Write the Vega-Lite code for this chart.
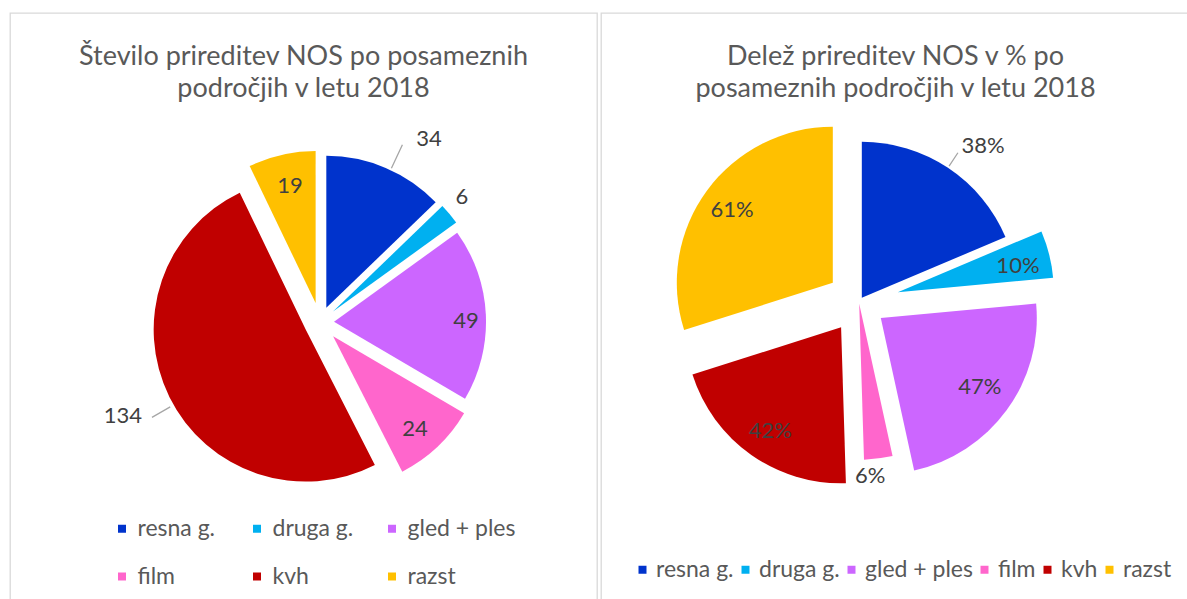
{
  "$schema": "https://vega.github.io/schema/vega-lite/v6.json",
  "padding": {"left": 9, "top": 12, "right": 0, "bottom": 0},
  "background": "white",
  "spacing": 2,
  "config": {
    "view": {"stroke": "#d9d9d9", "strokeWidth": 1.3},
    "font": "Lato",
    "title": {"font": "Lato", "fontSize": 27, "fontWeight": "normal", "color": "#595959", "lineHeight": 32, "anchor": "middle", "baseline": "top", "offset": -90},
    "legend": {"orient": "none", "title": null, "symbolType": "square", "symbolSize": 64, "symbolStrokeWidth": 0, "labelFont": "Lato", "labelFontSize": 23, "labelColor": "#595959", "padding": 0, "direction": "horizontal"}
  },
  "resolve": {"scale": {"color": "independent", "theta": "independent"}, "legend": {"color": "independent"}},
  "hconcat": [
    {
      "width": 587,
      "height": 587,
      "view": {"stroke": "#d9d9d9", "strokeWidth": 1.3},
      "title": {"text": ["Število prireditev NOS po posameznih", "področjih v letu 2018"]},
      "data": {"values": [
        {"cat": "resna g.", "value": 34},
        {"cat": "druga g.", "value": 6},
        {"cat": "gled + ples", "value": 49},
        {"cat": "film", "value": 24},
        {"cat": "kvh", "value": 134},
        {"cat": "razst", "value": 19}
      ]},
      "transform": [
        {"stack": "value", "groupby": [], "as": ["start", "end"]},
        {"calculate": "(datum.start + datum.end) / 2", "as": "mid"}
      ],
      "layer": [
        {"transform": [{"filter": "datum.cat === 'resna g.'"}], "mark": {"type": "arc", "outerRadius": 152, "xOffset": 22.8, "yOffset": 1.3},
         "encoding": {"theta": {"field": "start", "type": "quantitative", "stack": null, "scale": {"domain": [0, 266], "nice": false, "zero": true}}, "theta2": {"field": "end"},
           "color": {"field": "cat", "type": "nominal", "scale": {"domain": ["resna g.", "druga g.", "gled + ples", "film", "kvh", "razst"], "range": ["#0033CC", "#00B0F0", "#CC66FF", "#FF66CC", "#C00000", "#FFC000"]},
             "legend": {"columns": 3, "gridAlign": "all", "columnPadding": -10, "rowPadding": 24, "labelOffset": 4, "legendX": 100.5, "legendY": 504}}}},
        {"transform": [{"filter": "datum.cat === 'druga g.'"}], "mark": {"type": "arc", "outerRadius": 152, "xOffset": 29.5, "yOffset": 5.1},
         "encoding": {"theta": {"field": "start", "type": "quantitative", "stack": null}, "theta2": {"field": "end"}, "color": {"field": "cat", "type": "nominal"}}},
        {"transform": [{"filter": "datum.cat === 'gled + ples'"}], "mark": {"type": "arc", "outerRadius": 152, "xOffset": 30.5, "yOffset": 15.3},
         "encoding": {"theta": {"field": "start", "type": "quantitative", "stack": null}, "theta2": {"field": "end"}, "color": {"field": "cat", "type": "nominal"}}},
        {"transform": [{"filter": "datum.cat === 'film'"}], "mark": {"type": "arc", "outerRadius": 152, "xOffset": 29.6, "yOffset": 29.8},
         "encoding": {"theta": {"field": "start", "type": "quantitative", "stack": null}, "theta2": {"field": "end"}, "color": {"field": "cat", "type": "nominal"}}},
        {"transform": [{"filter": "datum.cat === 'kvh'"}], "mark": {"type": "arc", "outerRadius": 152, "xOffset": 2.2, "yOffset": 23.1},
         "encoding": {"theta": {"field": "start", "type": "quantitative", "stack": null}, "theta2": {"field": "end"}, "color": {"field": "cat", "type": "nominal"}}},
        {"transform": [{"filter": "datum.cat === 'razst'"}], "mark": {"type": "arc", "outerRadius": 152, "xOffset": 12.1, "yOffset": -3.5},
         "encoding": {"theta": {"field": "start", "type": "quantitative", "stack": null}, "theta2": {"field": "end"}, "color": {"field": "cat", "type": "nominal"}}},

        {"transform": [{"filter": "datum.cat === 'resna g.'"}], "mark": {"type": "arc", "innerRadius": 154, "outerRadius": 180, "thetaOffset": 0.035, "theta2Offset": 0.035, "xOffset": 22.8, "yOffset": 1.3, "filled": false, "stroke": "#a6a6a6", "strokeWidth": 1.3},
         "encoding": {"theta": {"field": "mid", "type": "quantitative", "stack": null}, "theta2": {"field": "mid"}}},
        {"transform": [{"filter": "datum.cat === 'kvh'"}], "mark": {"type": "arc", "innerRadius": 156, "outerRadius": 177, "thetaOffset": -0.058, "theta2Offset": -0.058, "xOffset": 2.2, "yOffset": 23.1, "filled": false, "stroke": "#a6a6a6", "strokeWidth": 1.3},
         "encoding": {"theta": {"field": "mid", "type": "quantitative", "stack": null}, "theta2": {"field": "mid"}}},

        {"transform": [{"filter": "datum.cat === 'resna g.'"}], "mark": {"type": "text", "radius": 196, "xOffset": 48.8, "yOffset": 12.6, "fontSize": 22, "font": "Lato", "color": "#404040", "baseline": "middle", "align": "center"},
         "encoding": {"theta": {"field": "mid", "type": "quantitative", "stack": null}, "text": {"field": "value", "type": "quantitative"}}},
        {"transform": [{"filter": "datum.cat === 'druga g.'"}], "mark": {"type": "text", "radius": 151, "xOffset": 42.7, "yOffset": -12.2, "fontSize": 22, "font": "Lato", "color": "#404040", "baseline": "middle", "align": "center"},
         "encoding": {"theta": {"field": "mid", "type": "quantitative", "stack": null}, "text": {"field": "value", "type": "quantitative"}}},
        {"transform": [{"filter": "datum.cat === 'gled + ples'"}], "mark": {"type": "text", "radius": 132, "xOffset": 30.7, "yOffset": 20.7, "fontSize": 22, "font": "Lato", "color": "#404040", "baseline": "middle", "align": "center"},
         "encoding": {"theta": {"field": "mid", "type": "quantitative", "stack": null}, "text": {"field": "value", "type": "quantitative"}}},
        {"transform": [{"filter": "datum.cat === 'film'"}], "mark": {"type": "text", "radius": 124, "xOffset": 26.4, "yOffset": 32.7, "fontSize": 22, "font": "Lato", "color": "#404040", "baseline": "middle", "align": "center"},
         "encoding": {"theta": {"field": "mid", "type": "quantitative", "stack": null}, "text": {"field": "value", "type": "quantitative"}}},
        {"transform": [{"filter": "datum.cat === 'kvh'"}], "mark": {"type": "text", "radius": 202, "xOffset": 0.4, "yOffset": 19.4, "fontSize": 22, "font": "Lato", "color": "#404040", "baseline": "middle", "align": "center"},
         "encoding": {"theta": {"field": "mid", "type": "quantitative", "stack": null}, "text": {"field": "value", "type": "quantitative"}}},
        {"transform": [{"filter": "datum.cat === 'razst'"}], "mark": {"type": "text", "radius": 120, "xOffset": 13.1, "yOffset": -3.7, "fontSize": 22, "font": "Lato", "color": "#404040", "baseline": "middle", "align": "center"},
         "encoding": {"theta": {"field": "mid", "type": "quantitative", "stack": null}, "text": {"field": "value", "type": "quantitative"}}}
      ]
    },
    {
      "width": 589,
      "height": 587,
      "view": {"stroke": "#d9d9d9", "strokeWidth": 1.3},
      "title": {"text": ["Delež prireditev NOS v % po", "posameznih področjih v letu 2018"]},
      "data": {"values": [
        {"cat": "resna g.", "value": 38},
        {"cat": "druga g.", "value": 10},
        {"cat": "gled + ples", "value": 47},
        {"cat": "film", "value": 6},
        {"cat": "kvh", "value": 42},
        {"cat": "razst", "value": 61}
      ]},
      "transform": [
        {"stack": "value", "groupby": [], "as": ["start", "end"]},
        {"calculate": "(datum.start + datum.end) / 2", "as": "mid"},
        {"calculate": "datum.value + '%'", "as": "label"}
      ],
      "layer": [
        {"transform": [{"filter": "datum.cat === 'resna g.'"}], "mark": {"type": "arc", "outerRadius": 156, "xOffset": -33.7, "yOffset": -8.7},
         "encoding": {"theta": {"field": "start", "type": "quantitative", "stack": null, "scale": {"domain": [0, 204], "nice": false, "zero": true}}, "theta2": {"field": "end"},
           "color": {"field": "cat", "type": "nominal", "scale": {"domain": ["resna g.", "druga g.", "gled + ples", "film", "kvh", "razst"], "range": ["#0033CC", "#00B0F0", "#CC66FF", "#FF66CC", "#C00000", "#FFC000"]},
             "legend": {"columns": 6, "gridAlign": "each", "columnPadding": -9, "labelOffset": 2, "legendX": 30, "legendY": 545}}}},
        {"transform": [{"filter": "datum.cat === 'druga g.'"}], "mark": {"type": "arc", "outerRadius": 156, "xOffset": 2.3, "yOffset": -14.3},
         "encoding": {"theta": {"field": "start", "type": "quantitative", "stack": null}, "theta2": {"field": "end"}, "color": {"field": "cat", "type": "nominal"}}},
        {"transform": [{"filter": "datum.cat === 'gled + ples'"}], "mark": {"type": "arc", "outerRadius": 156, "xOffset": -14.7, "yOffset": 11.5},
         "encoding": {"theta": {"field": "start", "type": "quantitative", "stack": null}, "theta2": {"field": "end"}, "color": {"field": "cat", "type": "nominal"}}},
        {"transform": [{"filter": "datum.cat === 'film'"}], "mark": {"type": "arc", "outerRadius": 156, "xOffset": -36.3, "yOffset": -2.8},
         "encoding": {"theta": {"field": "start", "type": "quantitative", "stack": null}, "theta2": {"field": "end"}, "color": {"field": "cat", "type": "nominal"}}},
        {"transform": [{"filter": "datum.cat === 'kvh'"}], "mark": {"type": "arc", "outerRadius": 156, "xOffset": -54.4, "yOffset": 20.8},
         "encoding": {"theta": {"field": "start", "type": "quantitative", "stack": null}, "theta2": {"field": "end"}, "color": {"field": "cat", "type": "nominal"}}},
        {"transform": [{"filter": "datum.cat === 'razst'"}], "mark": {"type": "arc", "outerRadius": 156, "xOffset": -62.7, "yOffset": -23.7},
         "encoding": {"theta": {"field": "start", "type": "quantitative", "stack": null}, "theta2": {"field": "end"}, "color": {"field": "cat", "type": "nominal"}}},

        {"transform": [{"filter": "datum.cat === 'resna g.'"}], "mark": {"type": "arc", "innerRadius": 158, "outerRadius": 174, "xOffset": -33.7, "yOffset": -8.7, "filled": false, "stroke": "#a6a6a6", "strokeWidth": 1.3},
         "encoding": {"theta": {"field": "mid", "type": "quantitative", "stack": null}, "theta2": {"field": "mid"}}},

        {"transform": [{"filter": "datum.cat === 'resna g.'"}], "mark": {"type": "text", "radius": 193.5, "xOffset": -19.3, "yOffset": 0.9, "fontSize": 22, "font": "Lato", "color": "#404040", "baseline": "middle", "align": "center"},
         "encoding": {"theta": {"field": "mid", "type": "quantitative", "stack": null}, "text": {"field": "label", "type": "nominal"}}},
        {"transform": [{"filter": "datum.cat === 'druga g.'"}], "mark": {"type": "text", "radius": 111, "xOffset": 14.8, "yOffset": -13.4, "fontSize": 22, "font": "Lato", "color": "#404040", "baseline": "middle", "align": "center"},
         "encoding": {"theta": {"field": "mid", "type": "quantitative", "stack": null}, "text": {"field": "label", "type": "nominal"}}},
        {"transform": [{"filter": "datum.cat === 'gled + ples'"}], "mark": {"type": "text", "radius": 120.6, "xOffset": -13.1, "yOffset": 9.2, "fontSize": 22, "font": "Lato", "color": "#404040", "baseline": "middle", "align": "center"},
         "encoding": {"theta": {"field": "mid", "type": "quantitative", "stack": null}, "text": {"field": "label", "type": "nominal"}}},
        {"transform": [{"filter": "datum.cat === 'film'"}], "mark": {"type": "text", "radius": 152, "xOffset": -44.1, "yOffset": 18.6, "fontSize": 22, "font": "Lato", "color": "#404040", "baseline": "middle", "align": "center"},
         "encoding": {"theta": {"field": "mid", "type": "quantitative", "stack": null}, "text": {"field": "label", "type": "nominal"}}},
        {"transform": [{"filter": "datum.cat === 'kvh'"}], "mark": {"type": "text", "radius": 125.5, "xOffset": -52.7, "yOffset": 22.1, "fontSize": 22, "font": "Lato", "color": "#404040", "baseline": "middle", "align": "center"},
         "encoding": {"theta": {"field": "mid", "type": "quantitative", "stack": null}, "text": {"field": "label", "type": "nominal"}}},
        {"transform": [{"filter": "datum.cat === 'razst'"}], "mark": {"type": "text", "radius": 124, "xOffset": -63.4, "yOffset": -22.9, "fontSize": 22, "font": "Lato", "color": "#404040", "baseline": "middle", "align": "center"},
         "encoding": {"theta": {"field": "mid", "type": "quantitative", "stack": null}, "text": {"field": "label", "type": "nominal"}}}
      ]
    }
  ]
}
